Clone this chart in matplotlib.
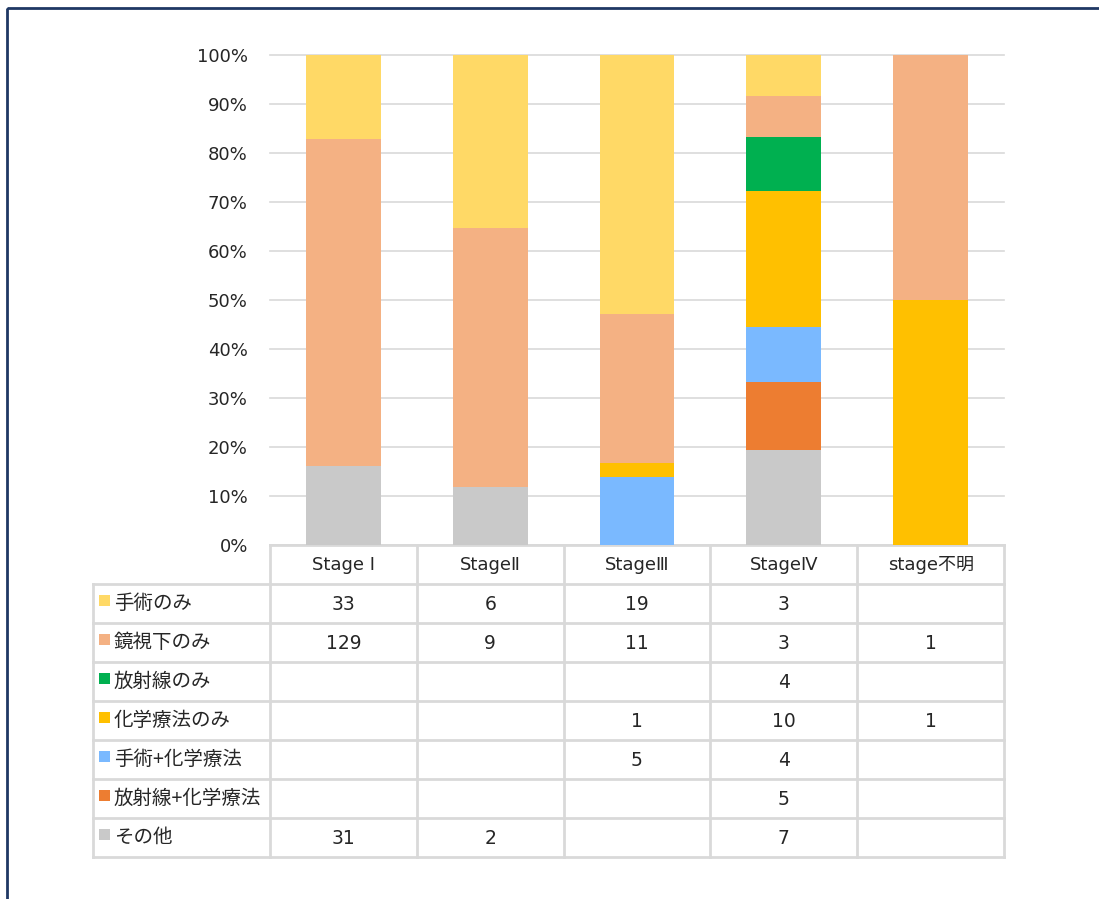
import matplotlib
matplotlib.use("Agg")
import matplotlib.pyplot as plt
from matplotlib.patches import Rectangle
import numpy as np

plt.rcParams['font.family'] = ['DejaVu Sans', 'Noto Sans CJK JP']

categories = ["Stage Ⅰ", "StageⅡ", "StageⅢ", "StageⅣ", "stage不明"]
series_names = ["手術のみ", "鏡視下のみ", "放射線のみ", "化学療法のみ", "手術+化学療法", "放射線+化学療法", "その他"]
colors = ["#FFD966", "#F4B183", "#00B050", "#FFC000", "#7AB9FF", "#ED7D31", "#C9C9C9"]
values = {
    "手術のみ":        [33, 6, 19, 3, 0],
    "鏡視下のみ":      [129, 9, 11, 3, 1],
    "放射線のみ":      [0, 0, 0, 4, 0],
    "化学療法のみ":    [0, 0, 1, 10, 1],
    "手術+化学療法":   [0, 0, 5, 4, 0],
    "放射線+化学療法": [0, 0, 0, 5, 0],
    "その他":          [31, 2, 0, 7, 0],
}
yticks = [0, 10, 20, 30, 40, 50, 60, 70, 80, 90, 100]

W, H = 1099, 899
fig = plt.figure(figsize=(W / 100, H / 100), dpi=100)

ov = fig.add_axes([0, 0, 1, 1])
ov.set_xlim(0, W)
ov.set_ylim(H, 0)
ov.axis('off')

x0, x1 = 270, 1004
ytop, ybot = 55, 545
ax = fig.add_axes([x0 / W, 1 - ybot / H, (x1 - x0) / W, (ybot - ytop) / H])
ax.set_zorder(2)
ax.patch.set_alpha(0)

n = len(categories)
totals = np.sum([values[s] for s in series_names], axis=0)
x = np.arange(n)
bottom = np.zeros(n)
for s, c in reversed(list(zip(series_names, colors))):
    v = np.array(values[s], dtype=float) / totals * 100
    ax.bar(x, v, bottom=bottom, width=0.51, color=c, zorder=3)
    bottom += v

ax.set_xlim(-0.5, n - 0.5)
ax.set_ylim(0, 100)
ax.set_yticks(yticks)
ax.set_yticklabels([f"{t}%" for t in yticks], fontsize=13, color="#262626")
ax.set_xticks([])
ax.tick_params(axis='y', length=0, pad=16)
ax.grid(axis='y', color="#D9D9D9", linewidth=1.2, zorder=0)
for gl in ax.get_ygridlines():
    gl.set_clip_on(False)
for sp in ax.spines.values():
    sp.set_visible(False)

gc = "#D9D9D9"
lw = 2
colw = (x1 - x0) / n
row_h = 39.0
hdr_top = 545
hdr_bot = 584
tab_left = 93
rows_y = [hdr_bot + i * row_h for i in range(len(series_names) + 1)]
tab_bot = rows_y[-1]

ov.plot([x0, x1], [hdr_top, hdr_top], color=gc, lw=lw)
for yy in rows_y:
    ov.plot([tab_left, x1], [yy, yy], color=gc, lw=lw)
for i in range(n + 1):
    xx = x0 + i * colw
    ov.plot([xx, xx], [hdr_top, tab_bot], color=gc, lw=lw)
ov.plot([tab_left, tab_left], [hdr_bot, tab_bot], color=gc, lw=lw)

for i, cat in enumerate(categories):
    ov.text(x0 + (i + 0.5) * colw, (hdr_top + hdr_bot) / 2, cat, ha='center', va='center',
            fontsize=13, color="#262626", family=['DejaVu Sans', 'Noto Sans CJK JP'])

for r, (s, c) in enumerate(zip(series_names, colors)):
    yc = rows_y[r] + row_h / 2
    ov.add_patch(Rectangle((99, yc - 8.5), 11, 11, facecolor=c, edgecolor='none'))
    ov.text(114, yc, s, ha='left', va='center', fontsize=14, color="#262626",
            family=['Noto Sans CJK JP', 'DejaVu Sans'])
    for i in range(n):
        v = values[s][i]
        if v:
            ov.text(x0 + (i + 0.5) * colw, yc + 1, str(v), ha='center', va='center',
                    fontsize=13.5, color="#262626")

ov.add_patch(Rectangle((7, 8), 1200, 1000, facecolor='none', edgecolor="#1F3864", lw=2))

fig.savefig("out.png", dpi=100)
